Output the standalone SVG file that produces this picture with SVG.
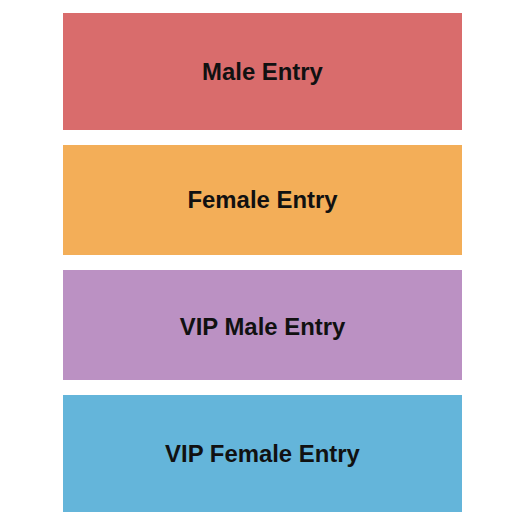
<svg xmlns="http://www.w3.org/2000/svg" width="525" height="525" viewBox="0 0 525 525">
<style>
text{font-family:"Liberation Sans",Arial,sans-serif;font-weight:bold;font-size:23.9px;fill:#111;text-anchor:middle}
</style>
<rect width="525" height="525" fill="#fff"/>
<g id="male"><rect x="63" y="13" width="399" height="117" fill="#D96C6C"/><text x="262.5" y="79.5">Male Entry</text></g>
<g id="female"><rect x="63" y="145" width="399" height="110" fill="#F3AE58"/><text x="262.5" y="208">Female Entry</text></g>
<g id="vip-male"><rect x="63" y="270" width="399" height="110" fill="#BB91C3"/><text x="262.5" y="335">VIP Male Entry</text></g>
<g id="vip-female"><rect x="63" y="395" width="399" height="117" fill="#64B5DA"/><text x="262.5" y="461.5">VIP Female Entry</text></g>
<g id="connectors"/>
</svg>
